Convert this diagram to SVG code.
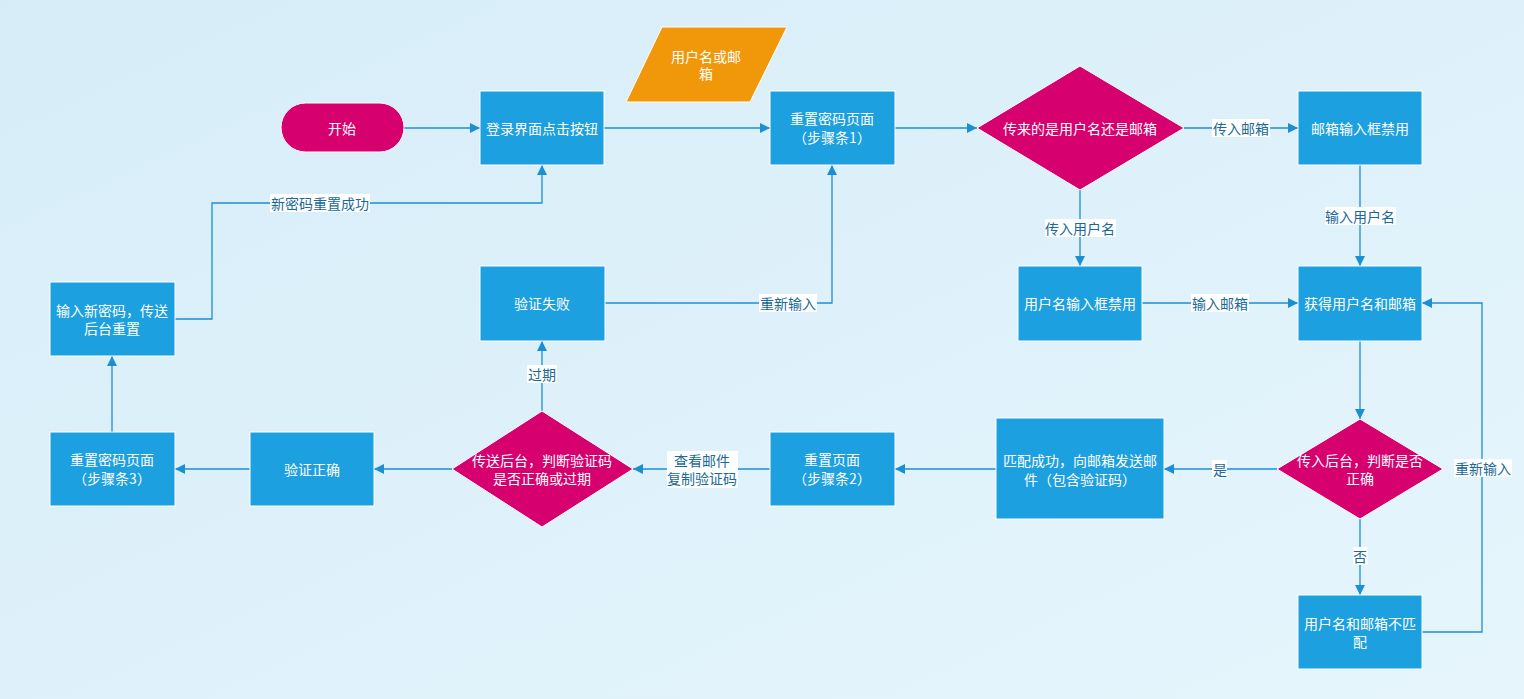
<svg xmlns="http://www.w3.org/2000/svg" width="1524" height="699" viewBox="0 0 1524 699">
<style>
.rect{fill:#1ca0e0;stroke:#ffffff;stroke-width:1}
.dia{fill:#d7006f;stroke:#ffffff;stroke-width:1}
.ntxt{font-family:"Noto Sans CJK SC","Liberation Sans",sans-serif;font-size:14px;fill:#ffffff;text-anchor:middle;dominant-baseline:central}
.ln{fill:none;stroke:#1b8fd2;stroke-width:1.3}
.lbg{fill:#ffffff}
.ltxt{font-family:"Noto Sans CJK SC","Liberation Sans",sans-serif;font-size:14px;fill:#1a6996;text-anchor:middle;dominant-baseline:central}
</style>
<defs>
<linearGradient id="bg" x1="0" y1="0" x2="1" y2="1">
<stop offset="0" stop-color="#d6edf8"/>
<stop offset="1" stop-color="#e6f5fc"/>
</linearGradient>
<marker id="arr" viewBox="0 0 10 10" refX="10" refY="5" markerWidth="10" markerHeight="10" markerUnits="userSpaceOnUse" orient="auto">
<path d="M0,0 L10,5 L0,10 Z" fill="#1b8fd2"/>
</marker>
</defs>
<rect x="0" y="0" width="1524" height="699" fill="url(#bg)"/>

<g id="connectors">
<path class="ln" d="M404,128 H480" marker-end="url(#arr)"/>
<path class="ln" d="M604,128 H770" marker-end="url(#arr)"/>
<path class="ln" d="M895,128 H977" marker-end="url(#arr)"/>
<path class="ln" d="M1184,128 H1298" marker-end="url(#arr)"/>
<path class="ln" d="M1080,190 V266" marker-end="url(#arr)"/>
<path class="ln" d="M1360,165 V266" marker-end="url(#arr)"/>
<path class="ln" d="M1142,303 H1298" marker-end="url(#arr)"/>
<path class="ln" d="M1360,341 V419" marker-end="url(#arr)"/>
<path class="ln" d="M1360,519 V595" marker-end="url(#arr)"/>
<path class="ln" d="M1422,632 H1482 V303 H1422" marker-end="url(#arr)"/>
<path class="ln" d="M1277,469 H1164" marker-end="url(#arr)"/>
<path class="ln" d="M996,469 H895" marker-end="url(#arr)"/>
<path class="ln" d="M770,469 H633" marker-end="url(#arr)"/>
<path class="ln" d="M452,469 H374" marker-end="url(#arr)"/>
<path class="ln" d="M542,411 V341" marker-end="url(#arr)"/>
<path class="ln" d="M605,303 H832 V165" marker-end="url(#arr)"/>
<path class="ln" d="M250,469 H175" marker-end="url(#arr)"/>
<path class="ln" d="M112,432 V356" marker-end="url(#arr)"/>
<path class="ln" d="M175,319 H212 V203 H542 V165" marker-end="url(#arr)"/>

<rect class="lbg" x="1212" y="119" width="58" height="18"/><text class="ltxt" x="1241" y="128">传入邮箱</text>
<rect class="lbg" x="1045" y="219" width="71" height="18"/><text class="ltxt" x="1080" y="228">传入用户名</text>
<rect class="lbg" x="1325" y="207" width="71" height="18"/><text class="ltxt" x="1360" y="216">输入用户名</text>
<rect class="lbg" x="1191" y="294" width="58" height="18"/><text class="ltxt" x="1220" y="303">输入邮箱</text>
<rect class="lbg" x="1454" y="459" width="58" height="18"/><text class="ltxt" x="1483" y="468">重新输入</text>
<rect class="lbg" x="1353" y="547" width="15" height="18"/><text class="ltxt" x="1360" y="556">否</text>
<rect class="lbg" x="1212" y="460" width="15" height="18"/><text class="ltxt" x="1220" y="469">是</text>
<rect class="lbg" x="667" y="451" width="71" height="37"/><text class="ltxt" x="702" y="460">查看邮件</text><text class="ltxt" x="702" y="478">复制验证码</text>
<rect class="lbg" x="527" y="365" width="30" height="18"/><text class="ltxt" x="542" y="374">过期</text>
<rect class="lbg" x="759" y="294" width="58" height="18"/><text class="ltxt" x="788" y="303">重新输入</text>
<rect class="lbg" x="270" y="194" width="100" height="18"/><text class="ltxt" x="320" y="203">新密码重置成功</text>
</g>

<g id="start">
<rect x="281" y="103" width="123" height="49" rx="24.5" ry="24.5" fill="#d7006f" stroke="#ffffff" stroke-width="1"/>
<text class="ntxt" x="342" y="128">开始</text>
</g>
<g id="login">
<rect class="rect" x="480" y="91" width="124" height="74"/>
<text class="ntxt" x="542" y="128">登录界面点击按钮</text>
</g>
<g id="input-data">
<path d="M662,27 H787 L750,102 H626 Z" fill="#f0980a" stroke="#ffffff" stroke-width="1"/>
<text class="ntxt" x="706" y="56">用户名或邮</text>
<text class="ntxt" x="706" y="73">箱</text>
</g>
<g id="reset1">
<rect class="rect" x="770" y="91" width="125" height="74"/>
<text class="ntxt" x="832" y="118">重置密码页面</text>
<text class="ntxt" x="832" y="137">（步骤条1）</text>
</g>
<g id="decide-type">
<path class="dia" d="M1080,66 L1184,128 L1080,190 L977,128 Z"/>
<text class="ntxt" x="1080" y="128">传来的是用户名还是邮箱</text>
</g>
<g id="email-disabled">
<rect class="rect" x="1298" y="91" width="124" height="74"/>
<text class="ntxt" x="1360" y="128">邮箱输入框禁用</text>
</g>
<g id="user-disabled">
<rect class="rect" x="1018" y="266" width="124" height="75"/>
<text class="ntxt" x="1080" y="303">用户名输入框禁用</text>
</g>
<g id="get-both">
<rect class="rect" x="1298" y="266" width="124" height="75"/>
<text class="ntxt" x="1360" y="303">获得用户名和邮箱</text>
</g>
<g id="check-match">
<path class="dia" d="M1360,419 L1443,469 L1360,519 L1277,469 Z"/>
<text class="ntxt" x="1360" y="460">传入后台，判断是否</text>
<text class="ntxt" x="1360" y="478">正确</text>
</g>
<g id="mismatch">
<rect class="rect" x="1298" y="595" width="124" height="74"/>
<text class="ntxt" x="1360" y="623">用户名和邮箱不匹</text>
<text class="ntxt" x="1360" y="641">配</text>
</g>
<g id="send-mail">
<rect class="rect" x="996" y="418" width="168" height="101"/>
<text class="ntxt" x="1080" y="460">匹配成功，向邮箱发送邮</text>
<text class="ntxt" x="1080" y="479">件（包含验证码）</text>
</g>
<g id="reset2">
<rect class="rect" x="770" y="432" width="125" height="74"/>
<text class="ntxt" x="832" y="459">重置页面</text>
<text class="ntxt" x="832" y="478">（步骤条2）</text>
</g>
<g id="check-code">
<path class="dia" d="M542,411 L633,469 L542,527 L452,469 Z"/>
<text class="ntxt" x="542" y="460">传送后台，判断验证码</text>
<text class="ntxt" x="542" y="478">是否正确或过期</text>
</g>
<g id="verify-fail">
<rect class="rect" x="480" y="266" width="125" height="75"/>
<text class="ntxt" x="542" y="303">验证失败</text>
</g>
<g id="verify-ok">
<rect class="rect" x="250" y="432" width="124" height="74"/>
<text class="ntxt" x="312" y="469">验证正确</text>
</g>
<g id="reset3">
<rect class="rect" x="50" y="432" width="125" height="74"/>
<text class="ntxt" x="112" y="459">重置密码页面</text>
<text class="ntxt" x="112" y="478">（步骤条3）</text>
</g>
<g id="new-password">
<rect class="rect" x="50" y="282" width="125" height="74"/>
<text class="ntxt" x="112" y="310">输入新密码，传送</text>
<text class="ntxt" x="112" y="328">后台重置</text>
</g>
</svg>
